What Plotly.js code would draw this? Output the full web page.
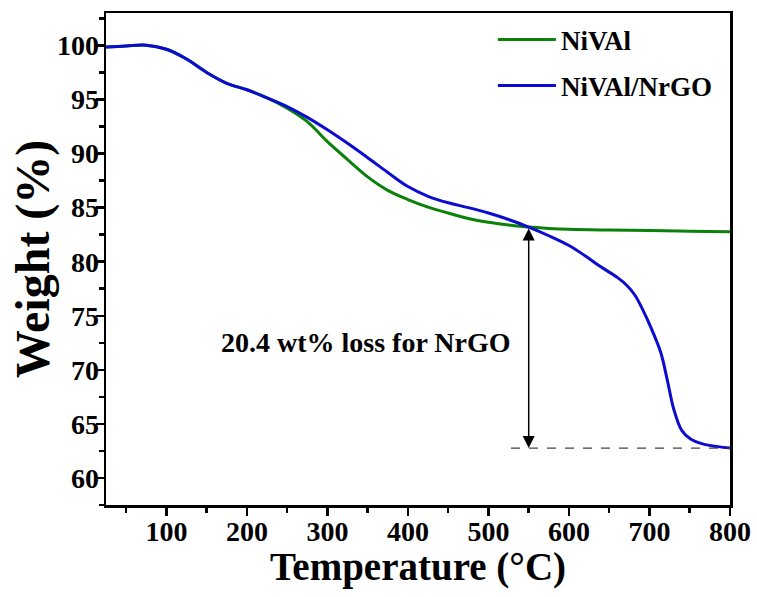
<!DOCTYPE html>
<html>
<head>
<meta charset="utf-8">
<script src="https://cdn.plot.ly/plotly-3.0.1.min.js"></script>
<style>html,body{margin:0;padding:0;background:#fff}#chart{width:757px;height:597px}</style>
</head>
<body>
<div id="chart"></div>
<script>
// Temperature (°C) and weight (%)
const tempNiVAl = [25, 50, 75, 100, 125, 150, 175, 200, 225, 250, 275, 300, 325, 350, 375, 400, 425, 450, 475, 500, 525, 550, 575, 600, 650, 700, 750, 800];
const weightNiVAl = [99.85, 99.95, 100.02, 99.65, 98.75, 97.5, 96.5, 95.9, 95.15, 94.2, 92.95, 91.1, 89.45, 87.85, 86.6, 85.75, 85.05, 84.5, 84.0, 83.65, 83.4, 83.2, 83.08, 83.0, 82.93, 82.88, 82.82, 82.76];

const tempComposite = [25, 50, 75, 100, 125, 150, 175, 200, 225, 250, 275, 300, 325, 350, 375, 400, 425, 450, 475, 500, 525, 550, 575, 600, 620, 640, 660, 672, 682, 692, 701, 714, 722, 730, 740, 751, 767, 785, 800];
const weightComposite = [99.85, 99.95, 100.02, 99.65, 98.75, 97.5, 96.5, 95.9, 95.15, 94.35, 93.35, 92.2, 90.95, 89.62, 88.25, 86.95, 86.05, 85.45, 85.0, 84.5, 83.9, 83.2, 82.4, 81.5, 80.55, 79.5, 78.55, 77.8, 76.9, 75.5, 74.05, 71.6, 69.1, 66.4, 64.4, 63.6, 63.13, 62.9, 62.76];

const seriesNames = ['NiVAl', 'NiVAl/NrGO'];
const xTicks = [100, 200, 300, 400, 500, 600, 700, 800];
const yTicks = [60, 65, 70, 75, 80, 85, 90, 95, 100];
const lossLabel = '20.4 wt% loss for NrGO';
const lossTemp = [550];          // arrow position (°C)
const lossLevels = [83.2, 62.76]; // arrow top / residual weight
const dashStart = [528];
const labelPos = [348, 72.5];

const FONT = '"Liberation Serif", "Times New Roman", Times, serif';
const XR = [25, 800], YR = [57.5, 103];

const traces = [
  {x: tempNiVAl, y: weightNiVAl, name: seriesNames[0], type: 'scatter', mode: 'lines',
   line: {color: '#0a820a', width: 3, shape: 'spline', smoothing: 1}, legendgroup: 'a'},
  {x: tempComposite, y: weightComposite, name: seriesNames[1], type: 'scatter', mode: 'lines',
   line: {color: '#0c0cd0', width: 3, shape: 'spline', smoothing: 1}, legendgroup: 'b'}
];

const tickFont = {family: FONT, size: 28, color: '#000', weight: 'bold'};
const lineAxis = {
  showline: true, linecolor: '#000', linewidth: 2.5, mirror: true,
  ticks: 'outside', ticklen: 8, tickwidth: 2.5, tickcolor: '#000',
  showgrid: false, zeroline: false, showticklabels: false
};
const labelAxis = {
  showline: false, ticks: '', showgrid: false, zeroline: false, showticklabels: true, tickfont: tickFont
};

const layout = {
  width: 757, height: 597,
  margin: {l: 106, r: 27, t: 13, b: 92},
  paper_bgcolor: '#fff', plot_bgcolor: '#fff',
  font: {family: FONT, color: '#000'},
  xaxis: Object.assign({}, lineAxis, {
    range: XR, tickvals: xTicks,
    minor: {tickvals: [50, 150, 250, 350, 450, 550, 650, 750], ticks: 'outside', ticklen: 5, tickwidth: 2.5, tickcolor: '#000'},
    title: {text: 'Temperature (°C)', font: {family: FONT, size: 39, weight: 'bold', color: '#000'}, standoff: 38}
  }),
  yaxis: Object.assign({}, lineAxis, {
    range: YR, tickvals: yTicks,
    minor: {dtick: 2.5, ticks: 'outside', ticklen: 5, tickwidth: 2.5, tickcolor: '#000'},
    title: {text: 'Weight (%)', font: {family: FONT, size: 48, weight: 'bold', color: '#000'}, standoff: 31}
  }),
  xaxis2: Object.assign({}, labelAxis, {
    overlaying: 'x', matches: 'x', anchor: 'y', side: 'bottom', range: XR, tickvals: xTicks,
    ticklabelstandoff: 7
  }),
  yaxis2: Object.assign({}, labelAxis, {
    overlaying: 'y', matches: 'y', anchor: 'x', side: 'left', range: YR, tickvals: yTicks,
    ticklabelstandoff: 6
  }),
  showlegend: true,
  legend: {x: 0.62, y: 0.995, xanchor: 'left', yanchor: 'top', bgcolor: 'rgba(0,0,0,0)',
    font: {family: FONT, size: 27, weight: 'bold', color: '#000'}, itemwidth: 58, tracegroupgap: 8},
  shapes: [
    {type: 'line', xref: 'x', yref: 'y', x0: dashStart[0], x1: 800, y0: lossLevels[1], y1: lossLevels[1],
     line: {color: '#444', width: 1.3, dash: 'dash'}}
  ],
  annotations: [
    {x: lossTemp[0], y: lossLevels[1], ax: lossTemp[0], ay: lossLevels[0], xref: 'x', yref: 'y', axref: 'x', ayref: 'y',
     text: '', showarrow: true, arrowside: 'end+start', arrowhead: 2, arrowsize: 1.6, arrowwidth: 1.5, arrowcolor: '#000',
     standoff: 0, startstandoff: 0},
    {x: labelPos[0], y: labelPos[1], xref: 'x', yref: 'y', text: lossLabel, showarrow: false,
     font: {family: FONT, size: 28, weight: 'bold', color: '#000'}}
  ]
};

// invisible helper trace so the label axes are drawn
traces.push({x: XR, y: YR, xaxis: 'x2', yaxis: 'y2', type: 'scatter', mode: 'markers',
  marker: {opacity: 0}, showlegend: false, hoverinfo: 'skip'});

Plotly.newPlot('chart', traces, layout, {displayModeBar: false, staticPlot: true});
</script>
</body>
</html>
